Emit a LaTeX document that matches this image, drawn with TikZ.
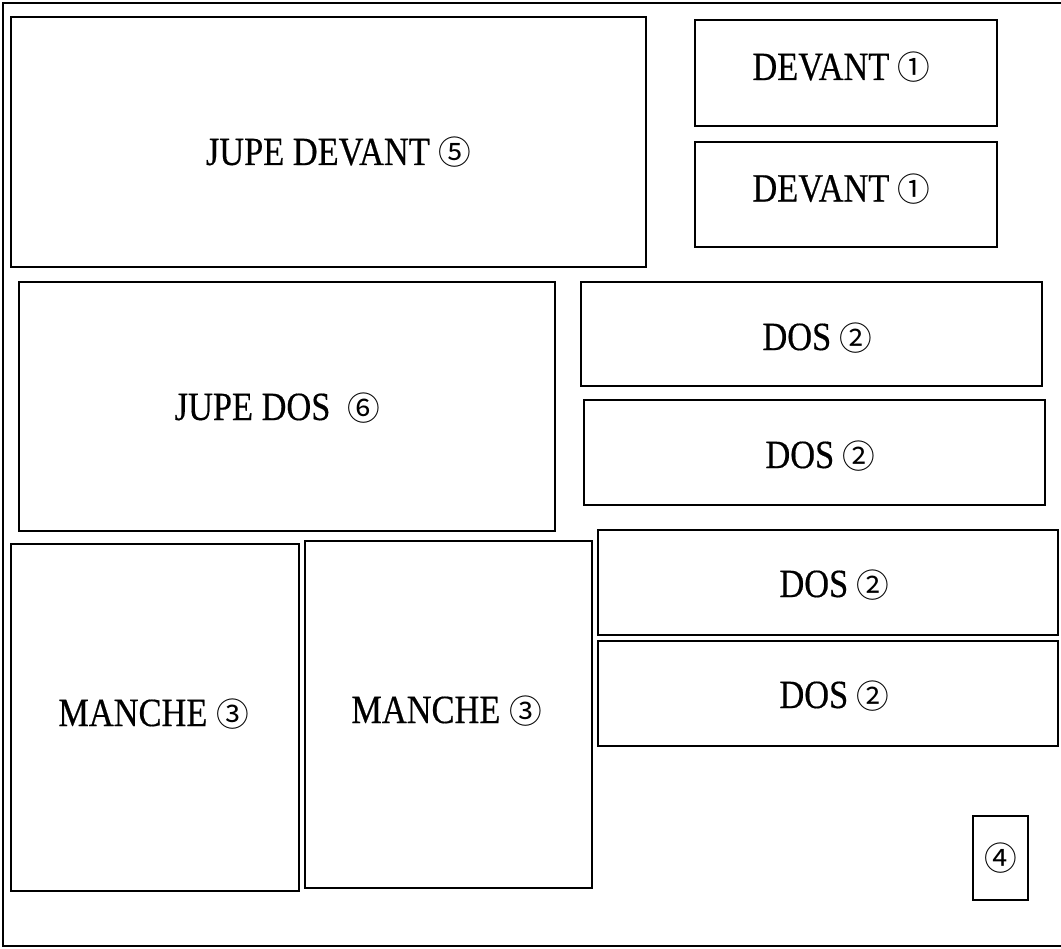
\documentclass[tikz,border=0pt]{standalone}
\usepackage{fontspec}
\setmainfont[FakeStretch=0.86,FakeBold=0.4]{Liberation Serif}
\newfontfamily\circfont{Noto Sans CJK JP}
\newcommand{\cnum}[1]{{\circfont\fontsize{24.5}{28}\selectfont #1}}
\usetikzlibrary{fit}
\begin{document}
\begin{tikzpicture}[x=0.75pt,y=-0.75pt,
  piece/.style={draw, line width=1.1pt, inner sep=0pt},
  lbl/.style={anchor=base, inner sep=0pt, font=\fontsize{30}{34}\selectfont}]
\clip (0,0) rectangle (1061,949);
\node[piece, fit={(3,3) (1080,946)}] (sheet) {};
\node[piece, fit={(11,17) (646,267)}] (jupedevant) {};
\node[piece, fit={(695,20) (997,126)}] (devantA) {};
\node[piece, fit={(695,142) (997,247)}] (devantB) {};
\node[piece, fit={(19,282) (555,531)}] (jupedos) {};
\node[piece, fit={(581,282) (1042,386)}] (dosA) {};
\node[piece, fit={(584,400) (1045,505)}] (dosB) {};
\node[piece, fit={(598,530) (1058,635)}] (dosC) {};
\node[piece, fit={(598,641) (1058,746)}] (dosD) {};
\node[piece, fit={(11,544) (299,891)}] (mancheA) {};
\node[piece, fit={(305,541) (592,888)}] (mancheB) {};
\node[piece, fit={(973,816) (1028,900)}] (small) {};

\node[lbl] (tjd) at (338.5,165) {JUPE DEVANT \cnum{⑤}};
\node[lbl] (tda) at (841.5,80) {DEVANT \cnum{①}};
\node[lbl] (tdb) at (841.5,201.5) {DEVANT \cnum{①}};
\node[lbl] (tjs) at (277.5,420) {JUPE DOS\ \ \cnum{⑥}};
\node[lbl] (tsa) at (817.5,350) {DOS \cnum{②}};
\node[lbl] (tsb) at (820.5,468) {DOS \cnum{②}};
\node[lbl] (tsc) at (834.5,597) {DOS \cnum{②}};
\node[lbl] (tsd) at (834.5,708) {DOS \cnum{②}};
\node[lbl] (tma) at (153.5,726) {MANCHE \cnum{③}};
\node[lbl] (tmb) at (446.5,723) {MANCHE \cnum{③}};
\node[inner sep=0pt] (tsm) at (small.center) {\cnum{④}};
\end{tikzpicture}
\end{document}
